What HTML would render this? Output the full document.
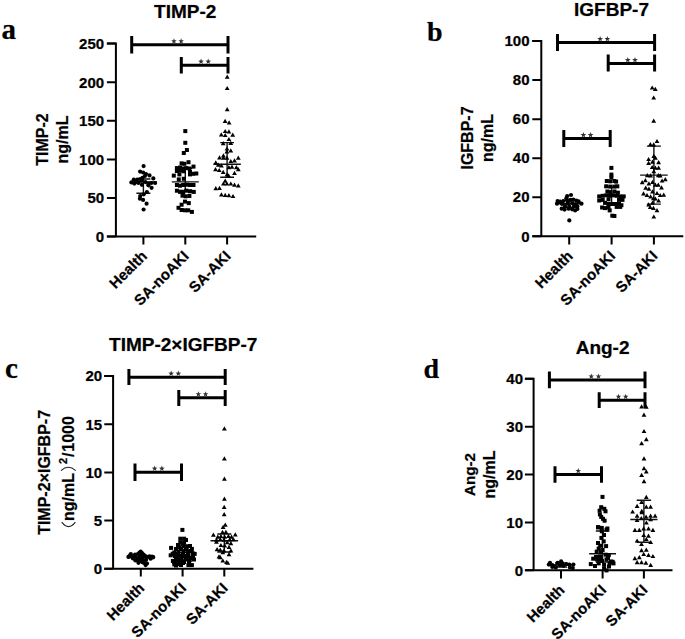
<!DOCTYPE html>
<html><head><meta charset="utf-8"><style>
html,body{margin:0;padding:0;background:#fff;}
svg{display:block;}
text{stroke:#000;stroke-opacity:0.35;stroke-width:0.7px;}
.ax{stroke:#000;stroke-width:2;fill:none;stroke-linecap:butt;stroke-linejoin:miter;}
.br{stroke:#000;stroke-width:3;fill:none;}
.ms{stroke:#111;stroke-width:1.4;fill:none;}
.tk{font-family:"Liberation Sans", sans-serif;font-weight:bold;font-size:15px;text-anchor:end;fill:#000;}
.xl{font-family:"Liberation Sans", sans-serif;font-weight:bold;font-size:15px;text-anchor:end;fill:#000;}
.ti{font-family:"Liberation Sans", sans-serif;font-weight:bold;font-size:19px;text-anchor:middle;fill:#000;}
.yt{font-family:"Liberation Sans", sans-serif;font-weight:bold;font-size:16px;text-anchor:middle;fill:#000;}
.pl{font-family:"Liberation Serif", serif;font-weight:bold;font-size:29px;fill:#000;}
.stp{fill:#333;}
</style></head><body>
<svg width="685" height="639" viewBox="0 0 685 639">
<rect width="685" height="639" fill="#fff"/>
<path d="M106.9 43.6 H115.9 V236.6 M106.9 236.6 H256.2" class="ax"/>
<text x="104.1" y="241.90" class="tk">0</text>
<text x="104.1" y="203.30" class="tk">50</text>
<text x="104.1" y="164.70" class="tk">100</text>
<text x="104.1" y="126.10" class="tk">150</text>
<text x="104.1" y="87.50" class="tk">200</text>
<text x="104.1" y="48.90" class="tk">250</text>
<path d="M106.9 236.60 H115.9 M106.9 198.00 H115.9 M106.9 159.40 H115.9 M106.9 120.80 H115.9 M106.9 82.20 H115.9 M106.9 43.60 H115.9" class="ax"/>
<path d="M143.4 236.6 V244.5 M185.3 236.6 V244.5 M227.1 236.6 V244.5" class="ax"/>
<text transform="translate(147.9,257.0) rotate(-45)" class="xl">Health</text>
<text transform="translate(189.8,257.0) rotate(-45)" class="xl">SA-noAKI</text>
<text transform="translate(231.6,257.0) rotate(-45)" class="xl">SA-AKI</text>
<text x="185.2" y="18.3" class="ti">TIMP-2</text>
<text x="1.5" y="38.8" class="pl" style="font-size:29px">a</text>
<text transform="translate(48,139.5) rotate(-90)" class="yt">TIMP-2</text>
<text transform="translate(68.3,139.5) rotate(-90)" class="yt">ng/mL</text>
<path d="M131.7 44.8 H228 M131.7 36.1 V53.6 M228 36.1 V53.6" class="br"/>
<polygon points="173.95,38.20 174.68,40.19 176.80,40.27 175.14,41.59 175.71,43.63 173.95,42.45 172.19,43.63 172.76,41.59 171.10,40.27 173.22,40.19" class="stp"/>
<polygon points="181.15,38.20 181.88,40.19 184.00,40.27 182.34,41.59 182.91,43.63 181.15,42.45 179.39,43.63 179.96,41.59 178.30,40.27 180.42,40.19" class="stp"/>
<path d="M181.3 65.2 H228 M181.3 57 V73.6 M228 57 V73.6" class="br"/>
<polygon points="201.05,58.60 201.78,60.59 203.90,60.67 202.24,61.99 202.81,64.03 201.05,62.85 199.29,64.03 199.86,61.99 198.20,60.67 200.32,60.59" class="stp"/>
<polygon points="208.25,58.60 208.98,60.59 211.10,60.67 209.44,61.99 210.01,64.03 208.25,62.85 206.49,64.03 207.06,61.99 205.40,60.67 207.52,60.59" class="stp"/>
<path d="M129.9 181.9 H156.9 M136.4 179 H150.4 M136.4 193.2 H150.4 M143.4 179 V193.2" class="ms"/>
<circle cx="143.6" cy="166.1" r="2.1"/>
<circle cx="140.1" cy="171.6" r="2.1"/>
<circle cx="143.1" cy="172.5" r="2.1"/>
<circle cx="146.0" cy="174.0" r="2.1"/>
<circle cx="149.5" cy="175.4" r="2.1"/>
<circle cx="153.3" cy="178.4" r="2.1"/>
<circle cx="144.9" cy="176.0" r="2.1"/>
<circle cx="142.5" cy="177.8" r="2.1"/>
<circle cx="131.4" cy="182.4" r="2.1"/>
<circle cx="133.8" cy="179.5" r="2.1"/>
<circle cx="134.3" cy="183.6" r="2.1"/>
<circle cx="137.3" cy="179.5" r="2.1"/>
<circle cx="138.4" cy="183.0" r="2.1"/>
<circle cx="141.4" cy="180.7" r="2.1"/>
<circle cx="141.9" cy="184.8" r="2.1"/>
<circle cx="140.2" cy="179.0" r="2.1"/>
<circle cx="136.1" cy="181.9" r="2.1"/>
<circle cx="145.4" cy="182.1" r="2.1"/>
<circle cx="148.4" cy="183.6" r="2.1"/>
<circle cx="151.3" cy="183.0" r="2.1"/>
<circle cx="155.1" cy="183.0" r="2.1"/>
<circle cx="151.6" cy="187.8" r="2.1"/>
<circle cx="146.9" cy="192.0" r="2.1"/>
<circle cx="143.7" cy="194.3" r="2.1"/>
<circle cx="140.2" cy="196.1" r="2.1"/>
<circle cx="139.9" cy="198.7" r="2.1"/>
<circle cx="143.1" cy="199.9" r="2.1"/>
<circle cx="146.6" cy="203.7" r="2.1"/>
<circle cx="143.6" cy="209.5" r="2.1"/>
<circle cx="148.4" cy="185.3" r="2.1"/>
<path d="M171.8 181.9 H198.8 M178.3 168.3 H192.3 M178.3 190.5 H192.3 M185.3 168.3 V190.5" class="ms"/>
<rect x="183.3" y="129.1" width="4" height="4"/>
<rect x="183.3" y="140.8" width="4" height="4"/>
<rect x="184.9" y="148.0" width="4" height="4"/>
<rect x="181.8" y="151.0" width="4" height="4"/>
<rect x="186.5" y="160.2" width="4" height="4"/>
<rect x="179.6" y="161.4" width="4" height="4"/>
<rect x="182.4" y="161.8" width="4" height="4"/>
<rect x="174.9" y="166.1" width="4" height="4"/>
<rect x="178.0" y="165.5" width="4" height="4"/>
<rect x="181.2" y="166.5" width="4" height="4"/>
<rect x="184.3" y="166.1" width="4" height="4"/>
<rect x="187.4" y="166.5" width="4" height="4"/>
<rect x="191.5" y="164.6" width="4" height="4"/>
<rect x="174.9" y="169.0" width="4" height="4"/>
<rect x="178.0" y="168.6" width="4" height="4"/>
<rect x="181.8" y="169.3" width="4" height="4"/>
<rect x="188.0" y="169.9" width="4" height="4"/>
<rect x="171.8" y="173.6" width="4" height="4"/>
<rect x="188.0" y="172.4" width="4" height="4"/>
<rect x="191.2" y="171.8" width="4" height="4"/>
<rect x="194.3" y="171.5" width="4" height="4"/>
<rect x="177.4" y="172.4" width="4" height="4"/>
<rect x="176.8" y="177.4" width="4" height="4"/>
<rect x="181.8" y="176.8" width="4" height="4"/>
<rect x="174.9" y="183.0" width="4" height="4"/>
<rect x="178.0" y="183.7" width="4" height="4"/>
<rect x="181.2" y="183.0" width="4" height="4"/>
<rect x="184.9" y="182.7" width="4" height="4"/>
<rect x="188.0" y="183.0" width="4" height="4"/>
<rect x="191.5" y="183.0" width="4" height="4"/>
<rect x="174.9" y="188.7" width="4" height="4"/>
<rect x="178.0" y="189.9" width="4" height="4"/>
<rect x="181.2" y="190.6" width="4" height="4"/>
<rect x="184.3" y="188.7" width="4" height="4"/>
<rect x="188.0" y="189.3" width="4" height="4"/>
<rect x="191.8" y="189.9" width="4" height="4"/>
<rect x="180.5" y="193.7" width="4" height="4"/>
<rect x="183.7" y="194.3" width="4" height="4"/>
<rect x="187.4" y="194.0" width="4" height="4"/>
<rect x="183.0" y="199.6" width="4" height="4"/>
<rect x="186.8" y="201.1" width="4" height="4"/>
<rect x="179.6" y="202.7" width="4" height="4"/>
<rect x="176.5" y="205.8" width="4" height="4"/>
<rect x="179.6" y="208.0" width="4" height="4"/>
<rect x="183.0" y="208.3" width="4" height="4"/>
<rect x="186.2" y="208.3" width="4" height="4"/>
<rect x="189.9" y="209.9" width="4" height="4"/>
<path d="M213.4 164.3 H240.79999999999998 M220.2 142.6 H234.0 M220.2 177.2 H234.0 M227.1 142.6 V177.2" class="ms"/>
<path d="M227.2 74.6 L229.6 78.8 L224.8 78.8Z"/>
<path d="M227.2 85.9 L229.6 90.1 L224.8 90.1Z"/>
<path d="M227.2 107.0 L229.6 111.2 L224.8 111.2Z"/>
<path d="M225.1 118.8 L227.5 123.0 L222.7 123.0Z"/>
<path d="M229.1 120.2 L231.5 124.4 L226.7 124.4Z"/>
<path d="M225.2 128.9 L227.6 133.1 L222.8 133.1Z"/>
<path d="M228.9 129.2 L231.3 133.4 L226.5 133.4Z"/>
<path d="M221.3 132.3 L223.7 136.5 L218.9 136.5Z"/>
<path d="M225.2 132.9 L227.6 137.1 L222.8 137.1Z"/>
<path d="M232.7 132.6 L235.1 136.8 L230.3 136.8Z"/>
<path d="M228.9 136.9 L231.3 141.1 L226.5 141.1Z"/>
<path d="M223.2 141.1 L225.6 145.3 L220.8 145.3Z"/>
<path d="M230.8 140.8 L233.2 145.0 L228.4 145.0Z"/>
<path d="M227 146.4 L229.4 150.6 L224.6 150.6Z"/>
<path d="M230.8 148.3 L233.2 152.5 L228.4 152.5Z"/>
<path d="M226.9 149.2 L229.3 153.4 L224.5 153.4Z"/>
<path d="M223.4 153.3 L225.8 157.5 L221.0 157.5Z"/>
<path d="M219.5 155.2 L221.9 159.4 L217.1 159.4Z"/>
<path d="M223.4 155.5 L225.8 159.7 L221.0 159.7Z"/>
<path d="M227 155.5 L229.4 159.7 L224.6 159.7Z"/>
<path d="M238.3 155.5 L240.7 159.7 L235.9 159.7Z"/>
<path d="M234.5 158.2 L236.9 162.4 L232.1 162.4Z"/>
<path d="M230.8 158.9 L233.2 163.1 L228.4 163.1Z"/>
<path d="M215.8 160.2 L218.2 164.4 L213.4 164.4Z"/>
<path d="M218.3 162.6 L220.7 166.8 L215.9 166.8Z"/>
<path d="M221.4 163.2 L223.8 167.4 L219.0 167.4Z"/>
<path d="M228.9 165.1 L231.3 169.3 L226.5 169.3Z"/>
<path d="M232 164.5 L234.4 168.7 L229.6 168.7Z"/>
<path d="M236.4 165.1 L238.8 169.3 L234.0 169.3Z"/>
<path d="M215.5 167.0 L217.9 171.2 L213.1 171.2Z"/>
<path d="M219.2 167.9 L221.6 172.1 L216.8 172.1Z"/>
<path d="M223.2 169.8 L225.6 174.0 L220.8 174.0Z"/>
<path d="M238.3 167.0 L240.7 171.2 L235.9 171.2Z"/>
<path d="M234.5 170.7 L236.9 174.9 L232.1 174.9Z"/>
<path d="M227 172.3 L229.4 176.5 L224.6 176.5Z"/>
<path d="M228.6 173.2 L231.0 177.4 L226.2 177.4Z"/>
<path d="M225.2 178.6 L227.6 182.8 L222.8 182.8Z"/>
<path d="M223.4 181.4 L225.8 185.6 L221.0 185.6Z"/>
<path d="M226.9 181.4 L229.3 185.6 L224.5 185.6Z"/>
<path d="M230.8 181.4 L233.2 185.6 L228.4 185.6Z"/>
<path d="M234.5 182.6 L236.9 186.8 L232.1 186.8Z"/>
<path d="M238.3 183.3 L240.7 187.5 L235.9 187.5Z"/>
<path d="M215.8 186.1 L218.2 190.3 L213.4 190.3Z"/>
<path d="M219.5 185.8 L221.9 190.0 L217.1 190.0Z"/>
<path d="M221.4 192.3 L223.8 196.5 L219.0 196.5Z"/>
<path d="M225.2 192.7 L227.6 196.9 L222.8 196.9Z"/>
<path d="M228.9 193.0 L231.3 197.2 L226.5 197.2Z"/>
<path d="M233 193.9 L235.4 198.1 L230.6 198.1Z"/>
<path d="M532.3 41.1 H541.3 V236.2 M532.3 236.2 H683.3" class="ax"/>
<text x="529.5" y="241.50" class="tk">0</text>
<text x="529.5" y="202.48" class="tk">20</text>
<text x="529.5" y="163.46" class="tk">40</text>
<text x="529.5" y="124.44" class="tk">60</text>
<text x="529.5" y="85.42" class="tk">80</text>
<text x="529.5" y="46.40" class="tk">100</text>
<path d="M532.3 236.20 H541.3 M532.3 197.18 H541.3 M532.3 158.16 H541.3 M532.3 119.14 H541.3 M532.3 80.12 H541.3 M532.3 41.10 H541.3" class="ax"/>
<path d="M569.2 236.2 V244.4 M611.6 236.2 V244.4 M653.9 236.2 V244.4" class="ax"/>
<text transform="translate(573.7,256.9) rotate(-45)" class="xl">Health</text>
<text transform="translate(616.1,256.9) rotate(-45)" class="xl">SA-noAKI</text>
<text transform="translate(658.4,256.9) rotate(-45)" class="xl">SA-AKI</text>
<text x="611.5" y="15.5" class="ti">IGFBP-7</text>
<text x="427" y="41.4" class="pl" style="font-size:28px">b</text>
<text transform="translate(472.5,138) rotate(-90)" class="yt">IGFBP-7</text>
<text transform="translate(492.7,138) rotate(-90)" class="yt">ng/mL</text>
<path d="M557.5 42.6 H654.6 M557.5 34 V51 M654.6 34 V51" class="br"/>
<polygon points="600.15,36.00 600.88,37.99 603.00,38.07 601.34,39.39 601.91,41.43 600.15,40.25 598.39,41.43 598.96,39.39 597.30,38.07 599.42,37.99" class="stp"/>
<polygon points="607.35,36.00 608.08,37.99 610.20,38.07 608.54,39.39 609.11,41.43 607.35,40.25 605.59,41.43 606.16,39.39 604.50,38.07 606.62,37.99" class="stp"/>
<path d="M608.2 63.6 H654.6 M608.2 54.4 V71.6 M654.6 54.4 V71.6" class="br"/>
<polygon points="627.80,57.00 628.53,58.99 630.65,59.07 628.99,60.39 629.56,62.43 627.80,61.25 626.04,62.43 626.61,60.39 624.95,59.07 627.07,58.99" class="stp"/>
<polygon points="635.00,57.00 635.73,58.99 637.85,59.07 636.19,60.39 636.76,62.43 635.00,61.25 633.24,62.43 633.81,60.39 632.15,59.07 634.27,58.99" class="stp"/>
<path d="M563.8 138.6 H610.2 M563.8 130 V147 M610.2 130 V147" class="br"/>
<polygon points="583.40,132.00 584.13,133.99 586.25,134.07 584.59,135.39 585.16,137.43 583.40,136.25 581.64,137.43 582.21,135.39 580.55,134.07 582.67,133.99" class="stp"/>
<polygon points="590.60,132.00 591.33,133.99 593.45,134.07 591.79,135.39 592.36,137.43 590.60,136.25 588.84,137.43 589.41,135.39 587.75,134.07 589.87,133.99" class="stp"/>
<path d="M555.7 203.7 H582.7 M562.2 200.5 H576.2 M562.2 207.5 H576.2 M569.2 200.5 V207.5" class="ms"/>
<circle cx="571" cy="195" r="2.1"/>
<circle cx="567.2" cy="196.1" r="2.1"/>
<circle cx="566.4" cy="198.2" r="2.1"/>
<circle cx="557.6" cy="201.1" r="2.1"/>
<circle cx="560.2" cy="201.7" r="2.1"/>
<circle cx="563.4" cy="201.1" r="2.1"/>
<circle cx="567.5" cy="200.8" r="2.1"/>
<circle cx="570.4" cy="199.9" r="2.1"/>
<circle cx="573.4" cy="199.6" r="2.1"/>
<circle cx="576.3" cy="200.5" r="2.1"/>
<circle cx="578.6" cy="201.4" r="2.1"/>
<circle cx="557" cy="203.7" r="2.1"/>
<circle cx="567.5" cy="203.4" r="2.1"/>
<circle cx="572.2" cy="203.1" r="2.1"/>
<circle cx="575.7" cy="204" r="2.1"/>
<circle cx="581.5" cy="203.7" r="2.1"/>
<circle cx="569.3" cy="206.4" r="2.1"/>
<circle cx="574" cy="206.1" r="2.1"/>
<circle cx="577.4" cy="206.4" r="2.1"/>
<circle cx="561.7" cy="208.7" r="2.1"/>
<circle cx="564.6" cy="209.6" r="2.1"/>
<circle cx="568.7" cy="208.7" r="2.1"/>
<circle cx="572.2" cy="209.3" r="2.1"/>
<circle cx="575.1" cy="210.4" r="2.1"/>
<circle cx="577.4" cy="209" r="2.1"/>
<circle cx="569.3" cy="220.4" r="2.1"/>
<circle cx="562" cy="204" r="2.1"/>
<circle cx="565" cy="206" r="2.1"/>
<path d="M598.1 196.2 H625.1 M604.6 187 H618.6 M604.6 204 H618.6 M611.6 187 V204" class="ms"/>
<rect x="609.4" y="165.9" width="4" height="4"/>
<rect x="609.4" y="172.6" width="4" height="4"/>
<rect x="609.4" y="175.5" width="4" height="4"/>
<rect x="604.8" y="179.0" width="4" height="4"/>
<rect x="608.3" y="179.3" width="4" height="4"/>
<rect x="612.4" y="179.0" width="4" height="4"/>
<rect x="614.1" y="179.6" width="4" height="4"/>
<rect x="604.2" y="184.3" width="4" height="4"/>
<rect x="608.3" y="184.6" width="4" height="4"/>
<rect x="612.4" y="184.6" width="4" height="4"/>
<rect x="615.3" y="184.3" width="4" height="4"/>
<rect x="605.4" y="189.5" width="4" height="4"/>
<rect x="608.3" y="190.1" width="4" height="4"/>
<rect x="612.4" y="189.5" width="4" height="4"/>
<rect x="615.9" y="190.7" width="4" height="4"/>
<rect x="597.2" y="194.4" width="4" height="4"/>
<rect x="600.7" y="193.8" width="4" height="4"/>
<rect x="604.2" y="193.3" width="4" height="4"/>
<rect x="607.7" y="193.8" width="4" height="4"/>
<rect x="611.2" y="193.3" width="4" height="4"/>
<rect x="614.7" y="193.8" width="4" height="4"/>
<rect x="618.2" y="194.4" width="4" height="4"/>
<rect x="621.7" y="194.4" width="4" height="4"/>
<rect x="597.2" y="198.5" width="4" height="4"/>
<rect x="600.7" y="197.9" width="4" height="4"/>
<rect x="606.5" y="197.3" width="4" height="4"/>
<rect x="617.0" y="197.9" width="4" height="4"/>
<rect x="620.5" y="197.9" width="4" height="4"/>
<rect x="603.0" y="200.8" width="4" height="4"/>
<rect x="606.5" y="202.0" width="4" height="4"/>
<rect x="610.0" y="202.0" width="4" height="4"/>
<rect x="613.5" y="202.0" width="4" height="4"/>
<rect x="617.0" y="202.0" width="4" height="4"/>
<rect x="619.4" y="203.2" width="4" height="4"/>
<rect x="600.1" y="205.5" width="4" height="4"/>
<rect x="603.0" y="206.1" width="4" height="4"/>
<rect x="606.5" y="205.5" width="4" height="4"/>
<rect x="614.7" y="204.9" width="4" height="4"/>
<rect x="618.2" y="204.9" width="4" height="4"/>
<rect x="607.7" y="208.4" width="4" height="4"/>
<rect x="610.3" y="213.7" width="4" height="4"/>
<rect x="612.4" y="214.0" width="4" height="4"/>
<path d="M640.1 175.1 H667.6999999999999 M646.9 146.1 H660.9 M646.9 204.1 H660.9 M653.9 146.1 V204.1" class="ms"/>
<path d="M652.2 85.4 L654.6 89.6 L649.8 89.6Z"/>
<path d="M655.3 86.7 L657.7 90.9 L652.9 90.9Z"/>
<path d="M653.7 95.4 L656.1 99.6 L651.3 99.6Z"/>
<path d="M653.7 118.6 L656.1 122.8 L651.3 122.8Z"/>
<path d="M657 138.9 L659.4 143.1 L654.6 143.1Z"/>
<path d="M650.4 142.0 L652.8 146.2 L648.0 146.2Z"/>
<path d="M653.7 142.3 L656.1 146.5 L651.3 146.5Z"/>
<path d="M653.8 153.7 L656.2 157.9 L651.4 157.9Z"/>
<path d="M655.4 155.6 L657.8 159.8 L653.0 159.8Z"/>
<path d="M648.6 156.9 L651.0 161.1 L646.2 161.1Z"/>
<path d="M652.5 159.5 L654.9 163.7 L650.1 163.7Z"/>
<path d="M658.6 160.1 L661.0 164.3 L656.2 164.3Z"/>
<path d="M648.6 160.8 L651.0 165.0 L646.2 165.0Z"/>
<path d="M652.2 164.9 L654.6 169.1 L649.8 169.1Z"/>
<path d="M655.4 165.6 L657.8 169.8 L653.0 169.8Z"/>
<path d="M658.6 165.6 L661.0 169.8 L656.2 169.8Z"/>
<path d="M653.8 169.1 L656.2 173.3 L651.4 173.3Z"/>
<path d="M647.3 173.0 L649.7 177.2 L644.9 177.2Z"/>
<path d="M650.6 173.3 L653.0 177.5 L648.2 177.5Z"/>
<path d="M658.3 173.0 L660.7 177.2 L655.9 177.2Z"/>
<path d="M660.2 173.3 L662.6 177.5 L657.8 177.5Z"/>
<path d="M645.4 178.1 L647.8 182.3 L643.0 182.3Z"/>
<path d="M642.2 180.0 L644.6 184.2 L639.8 184.2Z"/>
<path d="M665.3 177.1 L667.7 181.3 L662.9 181.3Z"/>
<path d="M662.1 178.4 L664.5 182.6 L659.7 182.6Z"/>
<path d="M652.5 179.7 L654.9 183.9 L650.1 183.9Z"/>
<path d="M648.9 181.3 L651.3 185.5 L646.5 185.5Z"/>
<path d="M655.4 182.6 L657.8 186.8 L653.0 186.8Z"/>
<path d="M658.3 182.6 L660.7 186.8 L655.9 186.8Z"/>
<path d="M645.7 185.5 L648.1 189.7 L643.3 189.7Z"/>
<path d="M648.9 186.5 L651.3 190.7 L646.5 190.7Z"/>
<path d="M661.5 185.2 L663.9 189.4 L659.1 189.4Z"/>
<path d="M652.5 189.3 L654.9 193.5 L650.1 193.5Z"/>
<path d="M657 190.9 L659.4 195.1 L654.6 195.1Z"/>
<path d="M643.5 191.3 L645.9 195.5 L641.1 195.5Z"/>
<path d="M647 192.9 L649.4 197.1 L644.6 197.1Z"/>
<path d="M650.6 194.2 L653.0 198.4 L648.2 198.4Z"/>
<path d="M660.2 192.9 L662.6 197.1 L657.8 197.1Z"/>
<path d="M663.7 192.6 L666.1 196.8 L661.3 196.8Z"/>
<path d="M653.4 196.1 L655.8 200.3 L651.0 200.3Z"/>
<path d="M655.4 196.4 L657.8 200.6 L653.0 200.6Z"/>
<path d="M658.6 198.3 L661.0 202.5 L656.2 202.5Z"/>
<path d="M652.5 200.6 L654.9 204.8 L650.1 204.8Z"/>
<path d="M648.6 202.2 L651.0 206.4 L646.2 206.4Z"/>
<path d="M650.2 204.8 L652.6 209.0 L647.8 209.0Z"/>
<path d="M653.4 205.7 L655.8 209.9 L651.0 209.9Z"/>
<path d="M657 208.0 L659.4 212.2 L654.6 212.2Z"/>
<path d="M653.8 214.4 L656.2 218.6 L651.4 218.6Z"/>
<path d="M104.3 376 H113.1 V568.8 M104.3 568.8 H253.4" class="ax"/>
<text x="102.1" y="574.10" class="tk">0</text>
<text x="102.1" y="525.90" class="tk">5</text>
<text x="102.1" y="477.70" class="tk">10</text>
<text x="102.1" y="429.50" class="tk">15</text>
<text x="102.1" y="381.30" class="tk">20</text>
<path d="M104.3 568.80 H113.1 M104.3 520.60 H113.1 M104.3 472.40 H113.1 M104.3 424.20 H113.1 M104.3 376.00 H113.1" class="ax"/>
<path d="M140.8 568.8 V576.5 M182.6 568.8 V576.5 M224.3 568.8 V576.5" class="ax"/>
<text transform="translate(145.3,589.0) rotate(-45)" class="xl">Health</text>
<text transform="translate(187.1,589.0) rotate(-45)" class="xl">SA-noAKI</text>
<text transform="translate(228.8,589.0) rotate(-45)" class="xl">SA-AKI</text>
<text x="183.2" y="351" class="ti">TIMP-2×IGFBP-7</text>
<text x="5" y="378" class="pl" style="font-size:29px">c</text>
<text transform="translate(49.9,472.4) rotate(-90)" class="yt">TIMP-2×IGFBP-7</text>
<g transform="translate(74.2,0) rotate(-90)"><text x="-496.95" y="0" class="yt">ng/mL</text><text x="-460.85" y="-7.7" class="yt" style="font-size:11px">2</text><text x="-454.75" y="0" class="yt">/</text><text x="-433.95" y="0" class="yt">1000</text></g>
<path d="M61.7 522.2 Q68.5 531 75.4 522.2 M61 470.6 Q68.3 464 75.7 470.6" stroke="#222" stroke-width="1.1" fill="none"/>
<path d="M128.9 377.2 H225.2 M128.9 369 V385 M225.2 369 V385" class="br"/>
<polygon points="171.15,370.60 171.88,372.59 174.00,372.67 172.34,373.99 172.91,376.03 171.15,374.85 169.39,376.03 169.96,373.99 168.30,372.67 170.42,372.59" class="stp"/>
<polygon points="178.35,370.60 179.08,372.59 181.20,372.67 179.54,373.99 180.11,376.03 178.35,374.85 176.59,376.03 177.16,373.99 175.50,372.67 177.62,372.59" class="stp"/>
<path d="M178.8 397.8 H225.2 M178.8 390 V406 M225.2 390 V406" class="br"/>
<polygon points="198.40,391.20 199.13,393.19 201.25,393.27 199.59,394.59 200.16,396.63 198.40,395.45 196.64,396.63 197.21,394.59 195.55,393.27 197.67,393.19" class="stp"/>
<polygon points="205.60,391.20 206.33,393.19 208.45,393.27 206.79,394.59 207.36,396.63 205.60,395.45 203.84,396.63 204.41,394.59 202.75,393.27 204.87,393.19" class="stp"/>
<path d="M135 472.2 H181.5 M135 463.6 V481 M181.5 463.6 V481" class="br"/>
<polygon points="154.65,465.60 155.38,467.59 157.50,467.67 155.84,468.99 156.41,471.03 154.65,469.85 152.89,471.03 153.46,468.99 151.80,467.67 153.92,467.59" class="stp"/>
<polygon points="161.85,465.60 162.58,467.59 164.70,467.67 163.04,468.99 163.61,471.03 161.85,469.85 160.09,471.03 160.66,468.99 159.00,467.67 161.12,467.59" class="stp"/>
<path d="M128.8 557.5 H152.8 M134.8 555 H146.8 M134.8 560 H146.8 M140.8 555 V560" class="ms"/>
<circle cx="130.8" cy="554" r="2.1"/>
<circle cx="128.4" cy="556.9" r="2.1"/>
<circle cx="140.7" cy="551.7" r="2.1"/>
<circle cx="137.8" cy="554" r="2.1"/>
<circle cx="143.6" cy="554.6" r="2.1"/>
<circle cx="136" cy="557.5" r="2.1"/>
<circle cx="139.5" cy="557.5" r="2.1"/>
<circle cx="143" cy="557.5" r="2.1"/>
<circle cx="146.5" cy="556.9" r="2.1"/>
<circle cx="149.4" cy="556.4" r="2.1"/>
<circle cx="153" cy="557.5" r="2.1"/>
<circle cx="135.4" cy="560.4" r="2.1"/>
<circle cx="138.9" cy="560.4" r="2.1"/>
<circle cx="142.4" cy="559.9" r="2.1"/>
<circle cx="150.6" cy="558.7" r="2.1"/>
<circle cx="138.4" cy="562.8" r="2.1"/>
<circle cx="142.4" cy="562.2" r="2.1"/>
<circle cx="145.6" cy="565.1" r="2.1"/>
<circle cx="132.5" cy="557.5" r="2.1"/>
<circle cx="133" cy="556" r="2.1"/>
<circle cx="135" cy="554.5" r="2.1"/>
<circle cx="141" cy="555" r="2.1"/>
<circle cx="144" cy="556" r="2.1"/>
<circle cx="147" cy="557.5" r="2.1"/>
<circle cx="150" cy="557" r="2.1"/>
<circle cx="137" cy="559" r="2.1"/>
<circle cx="140" cy="561" r="2.1"/>
<circle cx="143" cy="561" r="2.1"/>
<circle cx="146" cy="560" r="2.1"/>
<circle cx="139.5" cy="552.5" r="2.1"/>
<circle cx="142" cy="553" r="2.1"/>
<circle cx="133" cy="558.5" r="2.1"/>
<circle cx="129.5" cy="556" r="2.1"/>
<circle cx="152" cy="556.5" r="2.1"/>
<circle cx="153.2" cy="557" r="2.1"/>
<circle cx="144" cy="563" r="2.1"/>
<circle cx="147" cy="563.5" r="2.1"/>
<circle cx="130.5" cy="555" r="2.1"/>
<path d="M170.6 552.5 H194.6 M176.6 545 H188.6 M176.6 560 H188.6 M182.6 545 V560" class="ms"/>
<rect x="180.4" y="527.9" width="4" height="4"/>
<rect x="178.3" y="536.7" width="4" height="4"/>
<rect x="182.1" y="536.7" width="4" height="4"/>
<rect x="178.3" y="540.3" width="4" height="4"/>
<rect x="182.1" y="540.3" width="4" height="4"/>
<rect x="169.1" y="545.9" width="4" height="4"/>
<rect x="177.2" y="545.5" width="4" height="4"/>
<rect x="181.4" y="544.1" width="4" height="4"/>
<rect x="184.9" y="544.8" width="4" height="4"/>
<rect x="189.9" y="546.9" width="4" height="4"/>
<rect x="172.3" y="550.5" width="4" height="4"/>
<rect x="176.5" y="549.8" width="4" height="4"/>
<rect x="181.4" y="549.1" width="4" height="4"/>
<rect x="185.6" y="549.1" width="4" height="4"/>
<rect x="190.6" y="551.2" width="4" height="4"/>
<rect x="192.7" y="551.9" width="4" height="4"/>
<rect x="168.7" y="553.3" width="4" height="4"/>
<rect x="173.0" y="554.0" width="4" height="4"/>
<rect x="177.2" y="554.0" width="4" height="4"/>
<rect x="182.1" y="554.0" width="4" height="4"/>
<rect x="186.4" y="554.7" width="4" height="4"/>
<rect x="190.6" y="555.4" width="4" height="4"/>
<rect x="170.9" y="558.9" width="4" height="4"/>
<rect x="175.1" y="558.9" width="4" height="4"/>
<rect x="179.3" y="558.2" width="4" height="4"/>
<rect x="183.5" y="557.5" width="4" height="4"/>
<rect x="187.8" y="558.2" width="4" height="4"/>
<rect x="192.0" y="557.5" width="4" height="4"/>
<rect x="172.3" y="562.4" width="4" height="4"/>
<rect x="175.8" y="562.1" width="4" height="4"/>
<rect x="186.4" y="563.1" width="4" height="4"/>
<rect x="189.9" y="563.1" width="4" height="4"/>
<rect x="181.0" y="561.0" width="4" height="4"/>
<rect x="177.0" y="556.0" width="4" height="4"/>
<rect x="184.0" y="538.0" width="4" height="4"/>
<rect x="181.0" y="542.0" width="4" height="4"/>
<rect x="176.0" y="543.0" width="4" height="4"/>
<rect x="188.0" y="544.0" width="4" height="4"/>
<rect x="174.0" y="547.0" width="4" height="4"/>
<rect x="179.0" y="547.0" width="4" height="4"/>
<rect x="184.0" y="547.0" width="4" height="4"/>
<rect x="189.0" y="549.0" width="4" height="4"/>
<rect x="171.0" y="552.0" width="4" height="4"/>
<rect x="176.0" y="552.0" width="4" height="4"/>
<rect x="181.0" y="552.0" width="4" height="4"/>
<rect x="186.0" y="552.0" width="4" height="4"/>
<rect x="191.0" y="554.0" width="4" height="4"/>
<rect x="174.0" y="556.0" width="4" height="4"/>
<rect x="179.0" y="556.0" width="4" height="4"/>
<rect x="184.0" y="556.0" width="4" height="4"/>
<rect x="189.0" y="556.0" width="4" height="4"/>
<rect x="172.0" y="560.0" width="4" height="4"/>
<rect x="177.0" y="560.0" width="4" height="4"/>
<rect x="182.0" y="560.0" width="4" height="4"/>
<rect x="187.0" y="560.0" width="4" height="4"/>
<rect x="174.0" y="563.5" width="4" height="4"/>
<rect x="179.0" y="563.0" width="4" height="4"/>
<path d="M210.5 540.8 H238.10000000000002 M217.3 534 H231.3 M217.3 552 H231.3 M224.3 534 V552" class="ms"/>
<path d="M224.4 426.2 L226.8 430.4 L222.0 430.4Z"/>
<path d="M224.4 456.2 L226.8 460.4 L222.0 460.4Z"/>
<path d="M224.4 476.6 L226.8 480.8 L222.0 480.8Z"/>
<path d="M224.4 496.5 L226.8 500.7 L222.0 500.7Z"/>
<path d="M224.2 504.8 L226.6 509.0 L221.8 509.0Z"/>
<path d="M224.2 512.0 L226.6 516.2 L221.8 516.2Z"/>
<path d="M225.3 522.6 L227.7 526.8 L222.9 526.8Z"/>
<path d="M223.1 524.8 L225.5 529.0 L220.7 529.0Z"/>
<path d="M222.5 529.8 L224.9 534.0 L220.1 534.0Z"/>
<path d="M225.9 529.8 L228.3 534.0 L223.5 534.0Z"/>
<path d="M213.4 532.6 L215.8 536.8 L211.0 536.8Z"/>
<path d="M235.3 532.3 L237.7 536.5 L232.9 536.5Z"/>
<path d="M217.8 534.5 L220.2 538.7 L215.4 538.7Z"/>
<path d="M220.9 533.9 L223.3 538.1 L218.5 538.1Z"/>
<path d="M224.7 534.5 L227.1 538.7 L222.3 538.7Z"/>
<path d="M228.4 533.9 L230.8 538.1 L226.0 538.1Z"/>
<path d="M231.5 534.5 L233.9 538.7 L229.1 538.7Z"/>
<path d="M216.5 537.6 L218.9 541.8 L214.1 541.8Z"/>
<path d="M220.3 537.0 L222.7 541.2 L217.9 541.2Z"/>
<path d="M224 537.6 L226.4 541.8 L221.6 541.8Z"/>
<path d="M229.7 537.3 L232.1 541.5 L227.3 541.5Z"/>
<path d="M233.4 537.0 L235.8 541.2 L231.0 541.2Z"/>
<path d="M216.5 539.5 L218.9 543.7 L214.1 543.7Z"/>
<path d="M227.2 540.1 L229.6 544.3 L224.8 544.3Z"/>
<path d="M230.9 541.1 L233.3 545.3 L228.5 545.3Z"/>
<path d="M220.9 542.9 L223.3 547.1 L218.5 547.1Z"/>
<path d="M224.7 543.2 L227.1 547.4 L222.3 547.4Z"/>
<path d="M229 544.8 L231.4 549.0 L226.6 549.0Z"/>
<path d="M217.1 547.0 L219.5 551.2 L214.7 551.2Z"/>
<path d="M220.3 547.6 L222.7 551.8 L217.9 551.8Z"/>
<path d="M224 548.3 L226.4 552.5 L221.6 552.5Z"/>
<path d="M230.9 548.3 L233.3 552.5 L228.5 552.5Z"/>
<path d="M222.8 550.1 L225.2 554.3 L220.4 554.3Z"/>
<path d="M229 552.0 L231.4 556.2 L226.6 556.2Z"/>
<path d="M219 554.2 L221.4 558.4 L216.6 558.4Z"/>
<path d="M220.3 555.1 L222.7 559.3 L217.9 559.3Z"/>
<path d="M222.8 558.3 L225.2 562.5 L220.4 562.5Z"/>
<path d="M226.5 559.8 L228.9 564.0 L224.1 564.0Z"/>
<path d="M227.8 560.5 L230.2 564.7 L225.4 564.7Z"/>
<path d="M524.9 378.8 H533.6 V570.3 M524.9 570.3 H672.5" class="ax"/>
<text x="523.0" y="575.60" class="tk">0</text>
<text x="523.0" y="527.72" class="tk">10</text>
<text x="523.0" y="479.85" class="tk">20</text>
<text x="523.0" y="431.97" class="tk">30</text>
<text x="523.0" y="384.10" class="tk">40</text>
<path d="M524.9 570.30 H533.6 M524.9 522.42 H533.6 M524.9 474.55 H533.6 M524.9 426.67 H533.6 M524.9 378.80 H533.6" class="ax"/>
<path d="M561 570.3 V578.4 M602.6 570.3 V578.4 M643.9 570.3 V578.4" class="ax"/>
<text transform="translate(565.5,590.9) rotate(-45)" class="xl">Health</text>
<text transform="translate(607.1,590.9) rotate(-45)" class="xl">SA-noAKI</text>
<text transform="translate(648.4,590.9) rotate(-45)" class="xl">SA-AKI</text>
<text x="602.6" y="353.5" class="ti">Ang-2</text>
<text x="423.4" y="377.8" class="pl" style="font-size:28px">d</text>
<text transform="translate(474.5,474.5) rotate(-90)" class="yt" style="font-size:15.2px">Ang-2</text>
<text transform="translate(495,474.5) rotate(-90)" class="yt">ng/mL</text>
<path d="M549.4 380 H645 M549.4 371.5 V388.2 M645 371.5 V388.2" class="br"/>
<polygon points="591.30,373.40 592.03,375.39 594.15,375.47 592.49,376.79 593.06,378.83 591.30,377.65 589.54,378.83 590.11,376.79 588.45,375.47 590.57,375.39" class="stp"/>
<polygon points="598.50,373.40 599.23,375.39 601.35,375.47 599.69,376.79 600.26,378.83 598.50,377.65 596.74,378.83 597.31,376.79 595.65,375.47 597.77,375.39" class="stp"/>
<path d="M599.2 400.3 H645 M599.2 392.3 V408.1 M645 392.3 V408.1" class="br"/>
<polygon points="618.50,393.70 619.23,395.69 621.35,395.77 619.69,397.09 620.26,399.13 618.50,397.95 616.74,399.13 617.31,397.09 615.65,395.77 617.77,395.69" class="stp"/>
<polygon points="625.70,393.70 626.43,395.69 628.55,395.77 626.89,397.09 627.46,399.13 625.70,397.95 623.94,399.13 624.51,397.09 622.85,395.77 624.97,395.69" class="stp"/>
<path d="M555 474.5 H601.5 M555 466.3 V482.7 M601.5 466.3 V482.7" class="br"/>
<polygon points="578.25,467.90 578.98,469.89 581.10,469.97 579.44,471.29 580.01,473.33 578.25,472.15 576.49,473.33 577.06,471.29 575.40,469.97 577.52,469.89" class="stp"/>
<path d="M549 565 H573 M555 563 H567 M555 567 H567 M561 563 V567" class="ms"/>
<circle cx="550" cy="562.8" r="2.1"/>
<circle cx="548.8" cy="564.6" r="2.1"/>
<circle cx="552.3" cy="565.2" r="2.1"/>
<circle cx="555.3" cy="566.4" r="2.1"/>
<circle cx="552.3" cy="566.9" r="2.1"/>
<circle cx="557.6" cy="562.8" r="2.1"/>
<circle cx="561.1" cy="561.4" r="2.1"/>
<circle cx="562.3" cy="563.4" r="2.1"/>
<circle cx="559.9" cy="565.2" r="2.1"/>
<circle cx="563.4" cy="565.8" r="2.1"/>
<circle cx="566.4" cy="564" r="2.1"/>
<circle cx="569.3" cy="564.6" r="2.1"/>
<circle cx="573.4" cy="564.6" r="2.1"/>
<circle cx="569.9" cy="567.5" r="2.1"/>
<circle cx="572.8" cy="568.1" r="2.1"/>
<circle cx="555.8" cy="567.5" r="2.1"/>
<path d="M589.2 553.8 H616.0 M595.8000000000001 531 H609.4 M595.8000000000001 562 H609.4 M602.6 531 V562" class="ms"/>
<rect x="600.5" y="494.9" width="4" height="4"/>
<rect x="599.2" y="505.2" width="4" height="4"/>
<rect x="602.3" y="506.8" width="4" height="4"/>
<rect x="597.6" y="508.7" width="4" height="4"/>
<rect x="603.5" y="509.3" width="4" height="4"/>
<rect x="597.9" y="512.4" width="4" height="4"/>
<rect x="599.2" y="514.9" width="4" height="4"/>
<rect x="601.0" y="516.8" width="4" height="4"/>
<rect x="602.6" y="518.7" width="4" height="4"/>
<rect x="596.0" y="525.2" width="4" height="4"/>
<rect x="599.8" y="525.9" width="4" height="4"/>
<rect x="605.4" y="526.5" width="4" height="4"/>
<rect x="596.3" y="525.3" width="4" height="4"/>
<rect x="599.8" y="529.3" width="4" height="4"/>
<rect x="604.5" y="527.7" width="4" height="4"/>
<rect x="599.4" y="535.9" width="4" height="4"/>
<rect x="601.7" y="539.4" width="4" height="4"/>
<rect x="598.2" y="543.7" width="4" height="4"/>
<rect x="604.1" y="544.1" width="4" height="4"/>
<rect x="596.7" y="546.5" width="4" height="4"/>
<rect x="600.6" y="548.0" width="4" height="4"/>
<rect x="594.7" y="549.6" width="4" height="4"/>
<rect x="599.0" y="550.0" width="4" height="4"/>
<rect x="606.8" y="553.1" width="4" height="4"/>
<rect x="603.7" y="552.7" width="4" height="4"/>
<rect x="591.2" y="556.7" width="4" height="4"/>
<rect x="595.1" y="557.4" width="4" height="4"/>
<rect x="599.0" y="557.4" width="4" height="4"/>
<rect x="604.5" y="557.4" width="4" height="4"/>
<rect x="610.7" y="559.8" width="4" height="4"/>
<rect x="611.5" y="561.4" width="4" height="4"/>
<rect x="588.8" y="562.1" width="4" height="4"/>
<rect x="596.7" y="561.4" width="4" height="4"/>
<rect x="602.1" y="562.9" width="4" height="4"/>
<rect x="607.6" y="561.4" width="4" height="4"/>
<rect x="602.1" y="566.8" width="4" height="4"/>
<rect x="604.5" y="568.4" width="4" height="4"/>
<rect x="594.0" y="555.0" width="4" height="4"/>
<rect x="598.0" y="554.5" width="4" height="4"/>
<rect x="606.0" y="556.0" width="4" height="4"/>
<rect x="609.0" y="559.5" width="4" height="4"/>
<rect x="593.0" y="564.0" width="4" height="4"/>
<rect x="600.0" y="559.0" width="4" height="4"/>
<rect x="607.0" y="564.5" width="4" height="4"/>
<rect x="596.0" y="541.0" width="4" height="4"/>
<rect x="602.0" y="533.0" width="4" height="4"/>
<path d="M630.3 519.5 H657.5 M636.6999999999999 500.3 H651.1 M636.6999999999999 542.3 H651.1 M643.9 500.3 V542.3" class="ms"/>
<path d="M641.6 404.3 L644.0 408.5 L639.2 408.5Z"/>
<path d="M646.3 404.6 L648.7 408.8 L643.9 408.8Z"/>
<path d="M644 412.5 L646.4 416.7 L641.6 416.7Z"/>
<path d="M644 428.9 L646.4 433.1 L641.6 433.1Z"/>
<path d="M646.3 437.1 L648.7 441.3 L643.9 441.3Z"/>
<path d="M641.6 441.0 L644.0 445.2 L639.2 445.2Z"/>
<path d="M644 456.3 L646.4 460.5 L641.6 460.5Z"/>
<path d="M644 466.1 L646.4 470.3 L641.6 470.3Z"/>
<path d="M646.3 469.2 L648.7 473.4 L643.9 473.4Z"/>
<path d="M641.6 472.7 L644.0 476.9 L639.2 476.9Z"/>
<path d="M644 479.0 L646.4 483.2 L641.6 483.2Z"/>
<path d="M646.3 494.7 L648.7 498.9 L643.9 498.9Z"/>
<path d="M641.6 499.8 L644.0 504.0 L639.2 504.0Z"/>
<path d="M637.1 503.7 L639.5 507.9 L634.7 507.9Z"/>
<path d="M646.3 504.6 L648.7 508.8 L643.9 508.8Z"/>
<path d="M650.6 504.6 L653.0 508.8 L648.2 508.8Z"/>
<path d="M632.6 509.4 L635.0 513.6 L630.2 513.6Z"/>
<path d="M641.8 508.8 L644.2 513.0 L639.4 513.0Z"/>
<path d="M641.9 510.1 L644.3 514.3 L639.5 514.3Z"/>
<path d="M637.1 513.6 L639.5 517.8 L634.7 517.8Z"/>
<path d="M646.1 514.6 L648.5 518.8 L643.7 518.8Z"/>
<path d="M650.6 513.6 L653.0 517.8 L648.2 517.8Z"/>
<path d="M655.1 513.6 L657.5 517.8 L652.7 517.8Z"/>
<path d="M641.3 515.9 L643.7 520.1 L638.9 520.1Z"/>
<path d="M637.1 517.8 L639.5 522.0 L634.7 522.0Z"/>
<path d="M650.6 517.1 L653.0 521.3 L648.2 521.3Z"/>
<path d="M646.4 520.4 L648.8 524.6 L644.0 524.6Z"/>
<path d="M634.9 527.8 L637.3 532.0 L632.5 532.0Z"/>
<path d="M639.3 527.8 L641.7 532.0 L636.9 532.0Z"/>
<path d="M643.7 526.3 L646.1 530.5 L641.3 530.5Z"/>
<path d="M648.5 526.3 L650.9 530.5 L646.1 530.5Z"/>
<path d="M652.9 527.8 L655.3 532.0 L650.5 532.0Z"/>
<path d="M643.7 532.9 L646.1 537.1 L641.3 537.1Z"/>
<path d="M648.5 533.6 L650.9 537.8 L646.1 537.8Z"/>
<path d="M646.3 536.9 L648.7 541.1 L643.9 541.1Z"/>
<path d="M637.1 538.4 L639.5 542.6 L634.7 542.6Z"/>
<path d="M641.5 541.7 L643.9 545.9 L639.1 545.9Z"/>
<path d="M650.7 539.9 L653.1 544.1 L648.3 544.1Z"/>
<path d="M641.5 548.0 L643.9 552.2 L639.1 552.2Z"/>
<path d="M646.3 547.6 L648.7 551.8 L643.9 551.8Z"/>
<path d="M643.7 551.7 L646.1 555.9 L641.3 555.9Z"/>
<path d="M648.5 552.8 L650.9 557.0 L646.1 557.0Z"/>
<path d="M652.9 553.9 L655.3 558.1 L650.5 558.1Z"/>
<path d="M634.9 556.1 L637.3 560.3 L632.5 560.3Z"/>
<path d="M639.3 555.0 L641.7 559.2 L636.9 559.2Z"/>
<path d="M637.1 560.1 L639.5 564.3 L634.7 564.3Z"/>
<path d="M641.5 560.1 L643.9 564.3 L639.1 564.3Z"/>
<path d="M645.9 560.5 L648.3 564.7 L643.5 564.7Z"/>
<path d="M650.7 562.7 L653.1 566.9 L648.3 566.9Z"/>
</svg>
</body></html>
